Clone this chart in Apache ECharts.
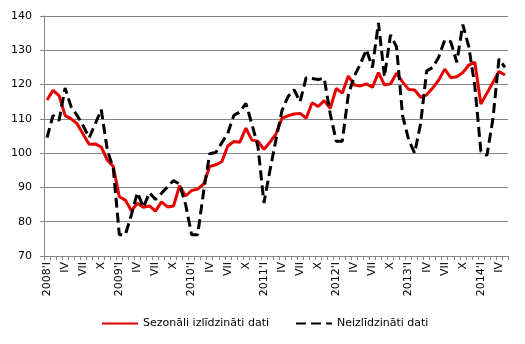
<!DOCTYPE html>
<html>
<head>
<meta charset="utf-8">
<script src="https://cdn.jsdelivr.net/npm/echarts@6/dist/echarts.min.js"></script>
<style>
  html, body { margin: 0; padding: 0; background: #fff; }
  #chart { width: 525px; height: 344px; }
</style>
</head>
<body>
<div id="chart"></div>
<script>
// Monthly periods, 2008 I – 2014 V
const years = ['2008', '2009', '2010', '2011', '2012', '2013', '2014'];
const months = ['I', 'II', 'III', 'IV', 'V', 'VI', 'VII', 'VIII', 'IX', 'X', 'XI', 'XII'];
const monthsInLastYear = 5;

// Seasonally adjusted index
const seasonal = [
  115.5, 118.3, 116.8, 111.0, 110.0, 108.6, 105.5, 102.6, 102.7, 101.8, 98.0, 96.1,
  87.3, 86.3, 83.2, 85.4, 84.2, 84.6, 83.1, 85.8, 84.3, 84.6, 90.5, 87.5,
  89.1, 89.5, 91.0, 96.1, 96.6, 97.5, 102.1, 103.4, 103.2, 107.3, 103.8, 103.5,
  101.1, 103.2, 105.6, 110.2, 110.9, 111.4, 111.6, 110.2, 114.7, 113.6, 115.3, 113.1,
  118.9, 117.5, 122.5, 119.9, 119.6, 120.2, 119.2, 123.5, 119.9, 120.2, 123.3, 120.8,
  118.6, 118.4, 116.3, 117.0, 119.0, 121.3, 124.5, 122.0, 122.3, 123.5, 125.7, 126.5,
  114.3, 117.5, 120.6, 123.8, 122.8
];

// Unadjusted index
const unadjusted = [
  104.5, 111.0, 109.5, 119.0, 113.5, 111.0, 108.0, 104.5, 108.5, 112.7, 101.0, 95.5,
  76.2, 76.2, 82.0, 88.5, 84.2, 88.5, 86.5, 88.3, 90.2, 92.0, 91.0, 85.0,
  76.2, 76.2, 89.0, 99.8, 100.2, 103.0, 105.8, 111.0, 112.0, 114.5, 108.5, 102.0,
  85.5, 95.0, 104.0, 112.5, 116.5, 118.5, 115.0, 122.0, 121.8, 121.5, 121.8, 111.5,
  103.5, 103.5, 117.0, 122.5, 126.0, 130.2, 125.0, 138.0, 122.3, 134.5, 131.0, 111.0,
  104.0, 100.0, 108.6, 124.0, 125.0, 128.0, 133.0, 132.5, 126.5, 137.5, 131.0, 119.5,
  100.5, 99.3, 110.0, 127.5, 125.0
];

const yTicks = { min: 70, max: 140, step: 10 };

const categories = [];
years.forEach((y, yi) => {
  const n = yi === years.length - 1 ? monthsInLastYear : months.length;
  for (let m = 0; m < n; m++) {
    categories.push(m === 0 ? y + "'" + months[m] : months[m]);
  }
});

const AXIS_GREY = '#868686';
const FONT = 'DejaVu Sans';

const chart = echarts.init(document.getElementById('chart'), null, { renderer: 'canvas' });
chart.setOption({
  animation: false,
  backgroundColor: '#ffffff',
  grid: { left: 44, right: 17, top: 16, bottom: 88, containLabel: false },
  legend: {
    left: 96,
    top: 313,
    itemGap: 26,
    itemWidth: 36,
    itemHeight: 12,
    itemStyle: { opacity: 0 },
    textStyle: { fontFamily: FONT, fontSize: 11, color: '#000' },
    data: ['Sezonāli izlīdzināti dati', 'Neizlīdzināti dati']
  },
  xAxis: {
    type: 'category',
    data: categories,
    boundaryGap: true,
    axisLine: { lineStyle: { color: AXIS_GREY, width: 1 } },
    axisTick: { show: true, interval: 0, length: 4, lineStyle: { color: AXIS_GREY } },
    axisLabel: {
      interval: 2,
      rotate: 90,
      margin: 6,
      fontFamily: FONT,
      fontSize: 11,
      color: '#000'
    },
    splitLine: { show: false }
  },
  yAxis: {
    type: 'value',
    min: yTicks.min,
    max: yTicks.max,
    interval: yTicks.step,
    axisLine: { show: true, lineStyle: { color: AXIS_GREY, width: 1 } },
    axisTick: { show: true, length: 4, lineStyle: { color: AXIS_GREY } },
    axisLabel: { margin: 12, fontFamily: FONT, fontSize: 11, color: '#000' },
    splitLine: { show: true, lineStyle: { color: AXIS_GREY, width: 1 } }
  },
  series: [
    {
      name: 'Sezonāli izlīdzināti dati',
      type: 'line',
      data: seasonal,
      symbol: 'none',
      z: 2,
      itemStyle: { color: '#e60000' },
      lineStyle: { color: '#e60000', width: 3 }
    },
    {
      name: 'Neizlīdzināti dati',
      type: 'line',
      data: unadjusted,
      symbol: 'none',
      z: 3,
      itemStyle: { color: '#000000' },
      lineStyle: { color: '#000000', width: 3, type: [10, 5] }
    }
  ]
});
</script>
</body>
</html>
